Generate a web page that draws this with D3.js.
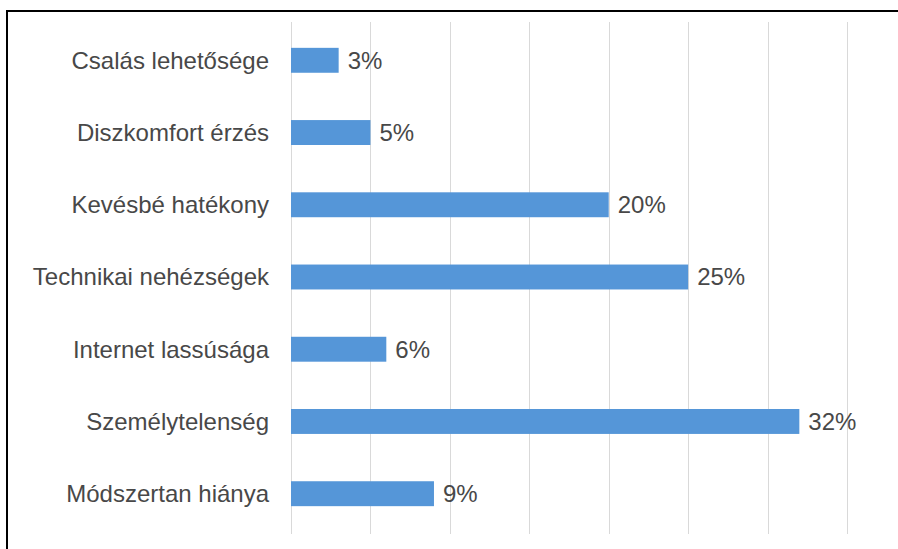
<!DOCTYPE html>
<html>
<head>
<meta charset="utf-8">
<script src="https://cdn.jsdelivr.net/npm/d3@7"></script>
<style>
  body { margin: 0; background: #fff; }
  svg { display: block; }
  text { font-family: "Liberation Sans", Arial, sans-serif; fill: #484848; }
</style>
</head>
<body>
<svg id="chart" width="898" height="549"></svg>
<script>
var categories = ['Csalás lehetősége', 'Diszkomfort érzés', 'Kevésbé hatékony', 'Technikai nehézségek',
    'Internet lassúsága', 'Személytelenség', 'Módszertan hiánya'];
var values = [3, 5, 20, 25, 6, 32, 9];
var gridTicks = [0, 5, 10, 15, 20, 25, 30, 35];

var svg = d3.select('#chart');

var x = d3.scaleLinear().domain([0, 35]).range([291, 847]);
var y = d3.scaleBand().domain(categories).range([24, 530]).paddingInner(0.655).paddingOuter(0.33);

// frame (left + top only, like the cropped screenshot)
svg.append('path')
    .attr('d', 'M7,549 V11 H898')
    .attr('fill', 'none')
    .attr('stroke', '#000')
    .attr('stroke-width', 2);

// vertical gridlines
svg.append('g').selectAll('line')
    .data(gridTicks)
    .enter().append('line')
    .attr('x1', function(d) { return Math.round(x(d)) + 0.5; })
    .attr('x2', function(d) { return Math.round(x(d)) + 0.5; })
    .attr('y1', 22)
    .attr('y2', 534)
    .attr('stroke', '#d9d9d9')
    .attr('stroke-width', 1);

// bars
svg.append('g').selectAll('rect')
    .data(values)
    .enter().append('rect')
    .attr('x', x(0))
    .attr('y', function(d, i) { return y(categories[i]); })
    .attr('width', function(d) { return x(d) - x(0); })
    .attr('height', y.bandwidth())
    .attr('fill', '#5596d8');

// category labels
svg.append('g').selectAll('text')
    .data(categories)
    .enter().append('text')
    .attr('x', 269)
    .attr('y', function(d) { return y(d) + y.bandwidth() / 2; })
    .attr('dy', '0.35em')
    .attr('text-anchor', 'end')
    .style('font-size', '24px')
    .text(function(d) { return d; });

// value labels
svg.append('g').selectAll('text')
    .data(values)
    .enter().append('text')
    .attr('x', function(d) { return x(d) + 9; })
    .attr('y', function(d, i) { return y(categories[i]) + y.bandwidth() / 2; })
    .attr('dy', '0.35em')
    .style('font-size', '24px')
    .text(function(d) { return d + '%'; });
</script>
</body>
</html>
